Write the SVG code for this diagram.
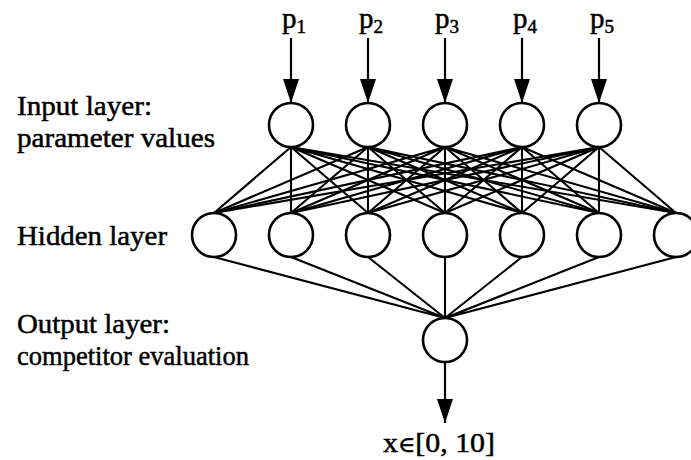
<svg xmlns="http://www.w3.org/2000/svg" width="691" height="460" viewBox="0 0 691 460">
<style>
.lbl{font-family:"Liberation Serif","Times New Roman",serif;font-size:28px;fill:#000;stroke:#000;stroke-width:0.5}
.pl{font-family:"Liberation Serif","Times New Roman",serif;font-size:29px;fill:#000;stroke:#000;stroke-width:0.5}
.sub{font-size:19px}
.node{fill:#fff;stroke:#000;stroke-width:2.6}
.edge{stroke:#000;stroke-width:2.1;fill:none}
.arr{stroke:#000;stroke-width:2.2;fill:none}
</style>
<defs>
<marker id="ah" viewBox="0 0 24 16" refX="24" refY="8" markerWidth="24" markerHeight="16" markerUnits="userSpaceOnUse" orient="auto">
<path d="M0,0 L24,8 L0,16 z" fill="#000"/>
</marker>
</defs>
<rect width="691" height="460" fill="#fff"/>
<g id="labels">
<text class="lbl" x="17" y="115" textLength="135" lengthAdjust="spacingAndGlyphs">Input layer:</text>
<text class="lbl" x="17" y="147" textLength="198" lengthAdjust="spacingAndGlyphs">parameter values</text>
<text class="lbl" x="17" y="245" textLength="150" lengthAdjust="spacingAndGlyphs">Hidden layer</text>
<text class="lbl" x="17" y="333" textLength="153" lengthAdjust="spacingAndGlyphs">Output layer:</text>
<text class="lbl" x="17" y="365" textLength="232" lengthAdjust="spacingAndGlyphs">competitor evaluation</text>
</g>
<g id="connectors">
<g id="input-arrows">
<line class="arr" x1="291" y1="38" x2="291" y2="103" marker-end="url(#ah)"/>
<line class="arr" x1="368" y1="38" x2="368" y2="103" marker-end="url(#ah)"/>
<line class="arr" x1="445" y1="38" x2="445" y2="103" marker-end="url(#ah)"/>
<line class="arr" x1="522" y1="38" x2="522" y2="103" marker-end="url(#ah)"/>
<line class="arr" x1="599" y1="38" x2="599" y2="103" marker-end="url(#ah)"/>
</g>
<g id="input-hidden">
<path class="edge" d="M291,147L214,213M291,147L291,213M291,147L368,213M291,147L445,213M291,147L522,213M291,147L599,213M291,147L676,213"/>
<path class="edge" d="M368,147L214,213M368,147L291,213M368,147L368,213M368,147L445,213M368,147L522,213M368,147L599,213M368,147L676,213"/>
<path class="edge" d="M445,147L214,213M445,147L291,213M445,147L368,213M445,147L445,213M445,147L522,213M445,147L599,213M445,147L676,213"/>
<path class="edge" d="M522,147L214,213M522,147L291,213M522,147L368,213M522,147L445,213M522,147L522,213M522,147L599,213M522,147L676,213"/>
<path class="edge" d="M599,147L214,213M599,147L291,213M599,147L368,213M599,147L445,213M599,147L522,213M599,147L599,213M599,147L676,213"/>
</g>
<g id="hidden-output">
<path class="edge" d="M214,257L445,318M291,257L445,318M368,257L445,318M445,257L445,318M522,257L445,318M599,257L445,318M676,257L445,318"/>
</g>
<line id="output-arrow" class="arr" x1="445" y1="362" x2="445" y2="423" marker-end="url(#ah)"/>
</g>
<g id="input-labels">
<text class="pl" x="282" y="28">p<tspan class="sub" dy="5">1</tspan></text>
<text class="pl" x="359" y="28">p<tspan class="sub" dy="5">2</tspan></text>
<text class="pl" x="435" y="28">p<tspan class="sub" dy="5">3</tspan></text>
<text class="pl" x="513" y="28">p<tspan class="sub" dy="5">4</tspan></text>
<text class="pl" x="590" y="28">p<tspan class="sub" dy="5">5</tspan></text>
</g>
<g id="input-layer">
<circle id="in1" class="node" cx="291" cy="125" r="22"/>
<circle id="in2" class="node" cx="368" cy="125" r="22"/>
<circle id="in3" class="node" cx="445" cy="125" r="22"/>
<circle id="in4" class="node" cx="522" cy="125" r="22"/>
<circle id="in5" class="node" cx="599" cy="125" r="22"/>
</g>
<g id="hidden-layer">
<circle id="h1" class="node" cx="214" cy="235" r="22"/>
<circle id="h2" class="node" cx="291" cy="235" r="22"/>
<circle id="h3" class="node" cx="368" cy="235" r="22"/>
<circle id="h4" class="node" cx="445" cy="235" r="22"/>
<circle id="h5" class="node" cx="522" cy="235" r="22"/>
<circle id="h6" class="node" cx="599" cy="235" r="22"/>
<circle id="h7" class="node" cx="676" cy="235" r="22"/>
</g>
<g id="output-node">
<circle id="out" class="node" cx="445" cy="340" r="22"/>
</g>
<text id="output-label" class="lbl" x="383" y="452" font-size="26" textLength="112" lengthAdjust="spacingAndGlyphs">x<tspan font-family="'DejaVu Serif',serif" font-size="22">∈</tspan>[0, 10]</text>
</svg>
